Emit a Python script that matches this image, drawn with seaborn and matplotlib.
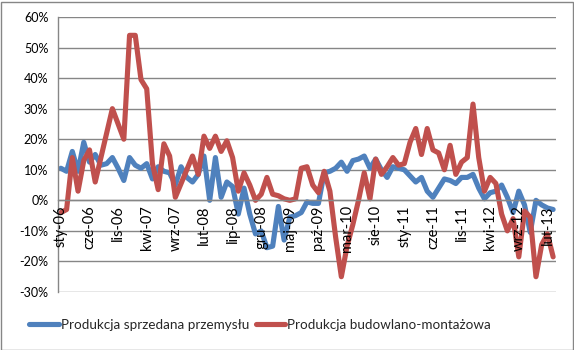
import matplotlib
matplotlib.use("Agg")
import matplotlib.pyplot as plt
import matplotlib.ticker as mticker
import matplotlib.transforms as mtransforms
from matplotlib.patches import Rectangle
import pandas as pd
import seaborn as sns

# Monthly y/y change in %, January 2006 - March 2013
industry = [
    10.5, 9.5, 16, 9.5, 19, 12.5, 15, 11.5, 12, 14,
    10.5, 6.5, 14, 11.5, 10.5, 12, 7, 11, 9.5, 9,
    5, 11, 7.5, 6, 8.5, 14.5, 0, 14, 1, 6,
    4.5, -4.5, 4, -4.5, -11, -10, -15.5, -15, -2, -13,
    -5.5, -5, -4, -0.5, -1, -1, 9, 9.5, 10.5, 12.5,
    9.5, 13, 13.5, 14.5, 10.5, 13.5, 10, 7.5, 11, 10.5,
    10, 8, 6, 7.5, 3, 1, 4, 7, 6.5, 5.5,
    7.5, 7.5, 8.5, 4, 0.5, 2.5, 3, 5, 1, -4,
    3, -1.5, -10.5, 0, -1.5, -2.5, -3,
]
construction = [
    -4, -3, 14, 3, 13, 16.5, 6, 14, 22, 30,
    25, 20, 54, 54, 39.5, 36.5, 12, 3.5, 18.5, 14.5,
    1, 5.5, 10, 14.5, 8.5, 21, 17, 21, 16, 19.5,
    14, 3, 9, 5, 0, 2, 7.5, 2, 1.5, 0.5,
    0, 0.5, 10.5, 11, 5, 2.5, 9.5, 3, -12, -25,
    -15, -8, 0, 9, 0.5, 13.5, 8.5, 11, 14, 11.5,
    12, 19, 23.5, 15, 23.5, 16.5, 15.5, 10, 18, 8.5,
    12.5, 14, 31.5, 14, 3, 7.5, 5.5, -4.5, -10, -6,
    -18.5, -3.5, -5.5, -25, -14.5, -11, -18.5,
]
series_names = ["Produkcja sprzedana przemysłu", "Produkcja budowlano-montażowa"]
month_abbr = ["sty", "lut", "mar", "kwi", "maj", "cze",
              "lip", "sie", "wrz", "paź", "lis", "gru"]
start_year = 2006

n = len(industry)
months = [f"{month_abbr[i % 12]}-{(start_year + i // 12) % 100:02d}" for i in range(n)]

df = pd.DataFrame({
    "idx": list(range(n)) * 2,
    "value": industry + construction,
    "series": [series_names[0]] * n + [series_names[1]] * n,
})

sns.set_style("white")
plt.rcParams["font.family"] = ["Lato", "DejaVu Sans"]

fig = plt.figure(figsize=(5.74, 3.5), dpi=100)
ax = fig.add_axes([58 / 574, 1 - 292 / 350, 498 / 574, 275 / 350])

grid_c = "#868686"
palette = {series_names[0]: "#4F81BD", series_names[1]: "#C0504D"}

sns.lineplot(data=df, x="idx", y="value", hue="series", palette=palette,
             linewidth=3.7, ax=ax, legend=True, solid_capstyle="round",
             solid_joinstyle="round")

ax.set_xlim(-0.5, n - 0.5)
ax.set_ylim(-30, 60)
ax.set_yticks(range(-30, 61, 10))
ax.yaxis.set_major_formatter(mticker.FuncFormatter(lambda v, p: f"{int(v)}%"))
ax.grid(axis="y", color=grid_c, linewidth=1)
ax.set_axisbelow(True)
ax.set_xlabel("")
ax.set_ylabel("")

# category axis crossing at 0, tick marks between categories
ax.spines["bottom"].set_position(("data", 0))
for s in ["top", "right"]:
    ax.spines[s].set_visible(False)
for s in ["left", "bottom"]:
    ax.spines[s].set_color(grid_c)
    ax.spines[s].set_linewidth(1)

label_pos = list(range(0, n, 5))
ax.set_xticks([p - 0.5 for p in label_pos])
ax.set_xticklabels([])
ax.tick_params(axis="x", which="major", direction="out", length=4,
               color=grid_c, width=1)
ax.tick_params(axis="y", direction="out", length=4, color=grid_c, width=1,
               labelsize=9, pad=3, labelcolor="black")

# month labels drawn above the series lines
label_tf = mtransforms.offset_copy(ax.transData, fig=fig, x=0, y=-5, units="dots")
for p in label_pos:
    ax.text(p, 0, months[p], transform=label_tf, rotation=90, ha="center",
            va="top", fontsize=10.5, color="black", zorder=10, clip_on=False)

handles, labels = ax.get_legend_handles_labels()
ax.get_legend().remove()
for h in handles:
    h.set_linewidth(3.7)
    h.set_solid_capstyle("round")
fig.legend(handles, labels, loc="center", bbox_to_anchor=(260 / 574, 1 - 325 / 350),
           ncol=2, frameon=False, fontsize=9.7, handlelength=2.2,
           handletextpad=0.15, columnspacing=0.5)

# chart area border
fig.patches.append(Rectangle((0.5 / 574, 0.5 / 350), 572 / 574, 348 / 350,
                             transform=fig.transFigure, fill=False,
                             edgecolor=grid_c, linewidth=1))

fig.savefig("out.png", dpi=100)
